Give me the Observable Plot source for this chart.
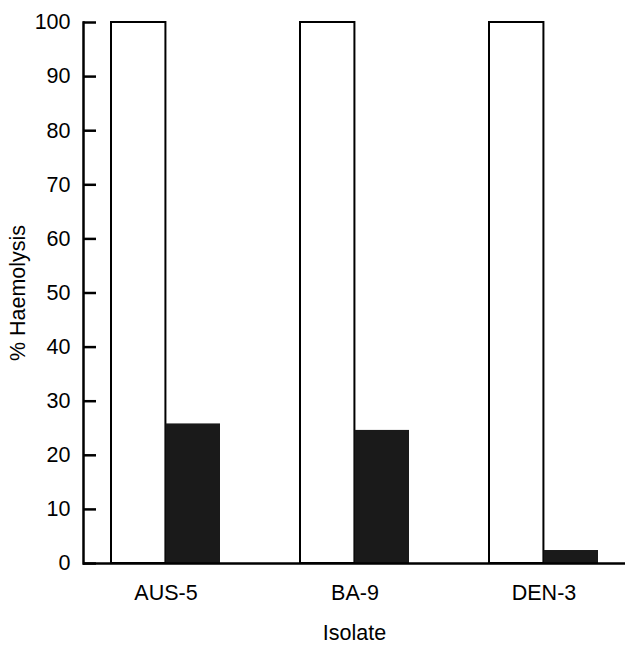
<!DOCTYPE html>
<html>
<head>
<meta charset="utf-8">
<script src="https://cdn.jsdelivr.net/npm/d3@7"></script>
<script src="https://cdn.jsdelivr.net/npm/@observablehq/plot@0.6"></script>
<style>
  html, body { margin: 0; padding: 0; background: #fff; }
</style>
</head>
<body>
<div id="chart"></div>
<script>
const isolates = ["AUS-5", "BA-9", "DEN-3"];
const controlValues = [100, 100, 100];
const treatedValues = [25.8, 24.6, 2.4];
const yTicks = [0, 10, 20, 30, 40, 50, 60, 70, 80, 90, 100];

const W = 634, H = 650, mL = 83, mR = 9, mT = 22, mB = 87;
const padIn = 0.425, padOut = 0.14;
const step = (W - mL - mR) / (isolates.length - padIn + 2 * padOut);
const bw = step * (1 - padIn);
const FS = 21.5;
const tickLen = 13;

const controlRows = isolates.map((d, i) => ({isolate: d, value: controlValues[i]}));
const treatedRows = isolates.map((d, i) => ({isolate: d, value: treatedValues[i]}));

const chart = Plot.plot({
  width: W, height: H,
  marginLeft: mL, marginRight: mR, marginTop: mT, marginBottom: mB,
  style: {fontSize: FS + "px", fontFamily: "'Liberation Sans', Arial, sans-serif", background: "white", color: "black"},
  x: {domain: isolates, paddingInner: padIn, paddingOuter: padOut},
  y: {domain: [0, 100]},
  marks: [
    Plot.barY(controlRows, {x: "isolate", y: "value", fill: "white", stroke: "black", strokeWidth: 2, insetRight: bw / 2}),
    Plot.barY(treatedRows, {x: "isolate", y: "value", fill: "#1a1a1a", insetLeft: bw / 2}),
    Plot.ruleY(yTicks, {stroke: "black", strokeWidth: 2.5, insetRight: W - mL - mR - tickLen}),
    Plot.ruleY([0], {stroke: "black", strokeWidth: 2.5}),
    Plot.frame({anchor: "left", stroke: "black", strokeWidth: 2.5}),
    Plot.axisY({ticks: yTicks, tickSize: 0, tickPadding: 13, fontSize: FS,
      label: "% Haemolysis", labelAnchor: "center", labelOffset: 74, labelArrow: "none"}),
    Plot.axisX({tickSize: 0, tickPadding: 21, fontSize: FS,
      label: "Isolate", labelAnchor: "center", labelOffset: 76})
  ]
});
document.getElementById("chart").appendChild(chart);
</script>
</body>
</html>
